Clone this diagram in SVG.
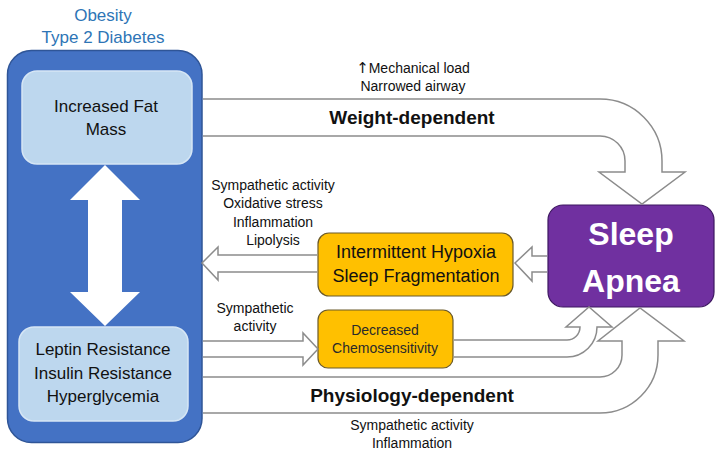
<svg xmlns="http://www.w3.org/2000/svg" width="719" height="454" viewBox="0 0 719 454">
<style>
text{font-family:"Liberation Sans",Arial,sans-serif;text-anchor:middle;fill:#111}
.lbl{font-size:14px}
.bold{font-weight:bold}
.blk{fill:#fff;stroke:#8c8c8c;stroke-width:1.5;stroke-linejoin:miter}
.inner{fill:#BDD7EE;stroke:#D6E6F5;stroke-width:1.5}
.orange{fill:#FFC000;stroke:#6b5a2a;stroke-width:1.2}
</style>
<rect width="719" height="454" fill="#fff"/>
<text x="103" y="21" style="font-size:17px;fill:#2E75B6">Obesity</text>
<text x="103" y="43" style="font-size:17px;fill:#2E75B6">Type 2 Diabetes</text>
<g id="obesity-box">
<rect x="7.5" y="50.5" width="194.5" height="392" rx="24" fill="#4472C4" stroke="#2F5597" stroke-width="1.5"/>
</g>
<g id="fat-mass">
<rect class="inner" x="22" y="71" width="170" height="93" rx="15"/>
<text x="106" y="112" style="font-size:17px">Increased Fat</text>
<text x="106" y="135" style="font-size:17px">Mass</text>
</g>
<g id="resistance">
<rect class="inner" x="19" y="327" width="169" height="94" rx="15"/>
<text x="103" y="355" style="font-size:17px">Leptin Resistance</text>
<text x="103" y="379" style="font-size:17px">Insulin Resistance</text>
<text x="103" y="402" style="font-size:17px">Hyperglycemia</text>
</g>
<g id="hypoxia">
<rect class="orange" x="318" y="233" width="195" height="63" rx="11"/>
<text x="416" y="258" style="font-size:18px">Intermittent Hypoxia</text>
<text x="416" y="282" style="font-size:18px">Sleep Fragmentation</text>
</g>
<g id="chemosensitivity">
<rect class="orange" x="318" y="310" width="135" height="58" rx="10"/>
<text x="385" y="335" class="lbl" style="fill:#2a2a2a">Decreased</text>
<text x="385" y="353" class="lbl" style="fill:#2a2a2a">Chemosensitivity</text>
</g>
<g id="sleep-apnea">
<rect x="548" y="205" width="166" height="102" rx="15" fill="#7030A0" stroke="#3d1760" stroke-width="1.2"/>
<text x="631" y="245" class="bold" style="font-size:32px;fill:#fff">Sleep</text>
<text x="631" y="292" class="bold" style="font-size:32px;fill:#fff">Apnea</text>
</g>
<g id="connectors">
<polygon points="105,165 140,200 122,200 122,292 140,292 105,326 70,292 88,292 88,200 70,200" fill="#fff"/>
<path class="blk" d="M203,99 H600 A62,62 0 0 1 662,161 V172 H685 L642,204 L599,172 H625 V161 A25,25 0 0 0 600,136 H203"/>
<path class="blk" d="M203,413 H600 A58,58 0 0 0 658,355 V341 H684 L640,308 L598,341 H622 V355 A22,22 0 0 1 600,377 H203"/>
<path class="blk" d="M454,357 H567 A30,30 0 0 0 597,327 H612 L589,307 L566,327 H580 A13,13 0 0 1 567,340 H454"/>
<path class="blk" d="M547,256 H532 V247 L515,263 L532,281 V272 H547"/>
<path class="blk" d="M317,255 H218 V247 L202,263 L218,280 V272 H317"/>
<path class="blk" d="M203,341 H303 V333 L318,349 L303,365 V357 H203"/>
</g>
<text x="413" y="73" class="lbl"><tspan style="font-family:'DejaVu Sans',sans-serif;font-size:15px">↑</tspan>Mechanical load</text>
<text x="413" y="91" class="lbl">Narrowed airway</text>
<text x="412" y="124" class="bold" style="font-size:19px">Weight-dependent</text>
<text x="273" y="190" class="lbl">Sympathetic activity</text>
<text x="273" y="208" class="lbl">Oxidative stress</text>
<text x="273" y="227" class="lbl">Inflammation</text>
<text x="273" y="245" class="lbl">Lipolysis</text>
<text x="255" y="313" class="lbl">Sympathetic</text>
<text x="255" y="331" class="lbl">activity</text>
<text x="412" y="402" class="bold" style="font-size:19px">Physiology-dependent</text>
<text x="412" y="430" class="lbl">Sympathetic activity</text>
<text x="412" y="448" class="lbl">Inflammation</text>
</svg>
